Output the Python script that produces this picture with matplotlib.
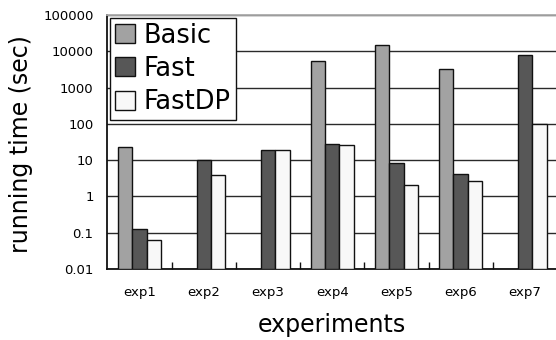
import matplotlib
matplotlib.use("Agg")
import matplotlib.pyplot as plt
import numpy as np

plt.rcParams['font.family'] = ['DejaVu Sans']

experiments = ['exp1', 'exp2', 'exp3', 'exp4', 'exp5', 'exp6', 'exp7']
# running time in seconds; None = no run for that method
basic = [22.8, None, None, 5550, 15000, 3270, None]
fast = [0.126, 9.8, 19.2, 27.6, 8.4, 4.1, 7950]
fastdp = [0.064, 4.0, 19.6, 26.4, 2.05, 2.74, 100]

series = [('Basic', basic, '#a2a2a2'),
          ('Fast', fast, '#575757'),
          ('FastDP', fastdp, '#f8f8f8')]

fig = plt.figure(figsize=(5.56, 3.40), dpi=100)
ax = fig.add_axes([0.1933, 0.2088, 0.8085, 0.747])

x = np.arange(len(experiments))
w = 0.225
floor = 0.01
for i, (name, vals, col) in enumerate(series):
    xs = [xi + (i - 1) * w for xi, v in zip(x, vals) if v is not None]
    hs = [v - floor for v in vals if v is not None]
    ax.bar(xs, hs, width=w, bottom=floor, color=col, edgecolor='#111111',
           linewidth=1.0, label=name, zorder=3)

ax.set_yscale('log')
ax.set_ylim(0.01, 100000)
ax.set_xlim(-0.5, len(experiments) - 0.5)
yt = [0.01, 0.1, 1, 10, 100, 1000, 10000, 100000]
ax.set_yticks(yt)
ax.set_yticklabels(['0.01', '0.1', '1', '10', '100', '1000', '10000', '100000'],
                   fontsize=9.5)
ax.yaxis.set_minor_locator(matplotlib.ticker.NullLocator())
ax.tick_params(axis='y', length=0, pad=10)

ax.set_xticks(x)
ax.set_xticklabels(experiments, fontsize=9.5)
ax.set_xticks(x[:-1] + 0.5, minor=True)
ax.tick_params(axis='x', which='major', length=0, pad=12)
ax.tick_params(axis='x', which='minor', direction='in', length=5,
               width=1, color='#111111')

ax.grid(axis='y', which='major', color='#2a2a2a', linewidth=1.0, zorder=0)
ax.set_axisbelow(True)

for s in ['left', 'bottom']:
    ax.spines[s].set_color('#111111')
    ax.spines[s].set_linewidth(1.3)
ax.spines['top'].set_color('#aaaaaa')
ax.spines['top'].set_linewidth(1.3)
ax.spines['right'].set_visible(False)

ax.set_ylabel('running time (sec)', fontsize=17)
ax.yaxis.set_label_coords(-0.166, 0.492)
ax.set_xlabel('experiments', fontsize=17)
ax.xaxis.set_label_coords(0.5, -0.173)

leg = ax.legend(loc='upper left', fontsize=18.5, handlelength=0.76,
                handleheight=0.76, handletextpad=0.34, labelspacing=0.28,
                borderpad=0.2, borderaxespad=0.1, fancybox=False,
                framealpha=1, edgecolor='#111111')
leg.get_frame().set_linewidth(1.0)

fig.savefig('out.png', dpi=100)
